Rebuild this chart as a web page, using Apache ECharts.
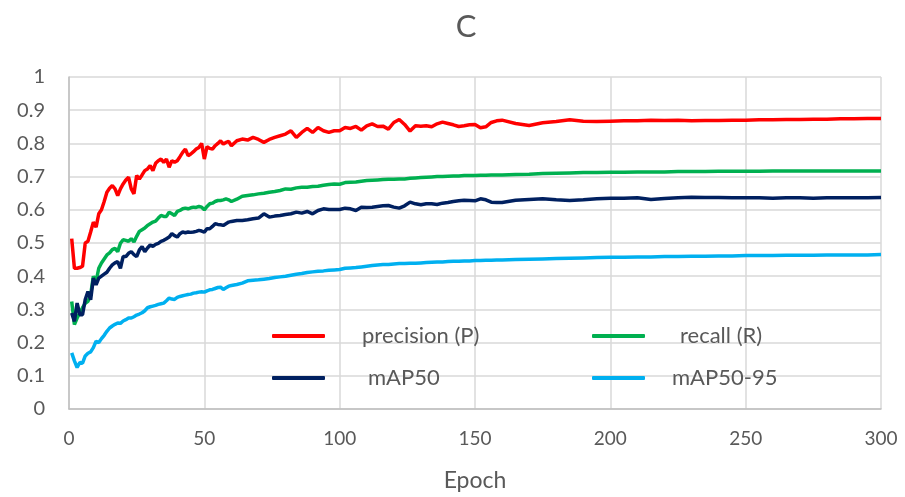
<!DOCTYPE html>
<html>
<head>
<meta charset="utf-8">
<script src="https://cdn.jsdelivr.net/npm/echarts@6/dist/echarts.min.js"></script>
<style>html,body{margin:0;padding:0;background:#fff;}#c{width:905px;height:497px;}</style>
</head>
<body>
<div id="c"></div>
<script>
const epochs = [1,2,3,4,5,6,7,8,9,10,11,12,13,14,15,16,17,18,19,20,21,22,23,24,25,26,27,28,29,30,31,32,33,34,35,36,37,38,39,40,41,42,43,44,45,46,47,48,49,50,51,52,53,54,55,56,57,58,59,60,
62,64,66,68,70,72,74,76,78,80,82,84,86,88,90,92,94,96,98,100,102,104,106,108,110,112,114,116,118,120,122,124,126,128,130,132,134,136,138,140,142,144,146,148,150,152,154,156,158,160,
165,170,175,180,185,190,195,200,205,210,215,220,225,230,235,240,245,250,255,260,265,270,275,280,285,290,295,300];

const precision = [0.513,0.424,0.424,0.426,0.430,0.500,0.505,0.533,0.563,0.548,0.588,0.600,0.625,0.653,0.665,0.673,0.663,0.643,0.663,0.678,0.690,0.698,0.663,0.648,0.703,0.693,0.705,0.718,0.723,0.733,0.718,0.740,0.748,0.753,0.743,0.753,0.728,0.748,0.743,0.748,0.760,0.773,0.783,0.763,0.768,0.775,0.783,0.788,0.800,0.753,0.790,0.785,0.783,0.793,0.800,0.808,0.798,0.803,0.806,0.793,
0.808,0.813,0.810,0.818,0.812,0.803,0.812,0.818,0.823,0.828,0.838,0.818,0.833,0.845,0.833,0.848,0.838,0.833,0.838,0.838,0.848,0.845,0.851,0.840,0.853,0.859,0.851,0.852,0.843,0.863,0.872,0.857,0.837,0.853,0.852,0.853,0.850,0.859,0.864,0.860,0.856,0.851,0.853,0.856,0.857,0.847,0.850,0.863,0.868,0.870,
0.860,0.854,0.862,0.866,0.871,0.867,0.866,0.867,0.868,0.868,0.870,0.869,0.870,0.868,0.869,0.869,0.870,0.870,0.871,0.871,0.872,0.872,0.873,0.873,0.874,0.874,0.875,0.875];

const recall = [0.324,0.254,0.274,0.290,0.305,0.318,0.324,0.344,0.400,0.384,0.424,0.440,0.452,0.464,0.470,0.480,0.484,0.474,0.499,0.510,0.508,0.505,0.513,0.503,0.520,0.535,0.540,0.545,0.553,0.558,0.563,0.566,0.575,0.583,0.580,0.580,0.593,0.588,0.583,0.595,0.598,0.603,0.605,0.603,0.606,0.608,0.607,0.610,0.608,0.600,0.610,0.618,0.620,0.625,0.628,0.628,0.630,0.633,0.630,0.625,
0.632,0.641,0.643,0.645,0.648,0.650,0.653,0.655,0.658,0.663,0.662,0.666,0.668,0.668,0.670,0.671,0.674,0.676,0.678,0.677,0.682,0.683,0.684,0.686,0.688,0.689,0.690,0.691,0.692,0.692,0.693,0.693,0.695,0.696,0.697,0.698,0.699,0.700,0.700,0.701,0.702,0.702,0.703,0.703,0.703,0.704,0.704,0.705,0.705,0.705,
0.706,0.707,0.709,0.710,0.711,0.712,0.712,0.713,0.713,0.714,0.714,0.714,0.715,0.715,0.715,0.716,0.716,0.716,0.716,0.717,0.717,0.717,0.717,0.717,0.717,0.717,0.717,0.717];

const mAP50 = [0.289,0.264,0.319,0.284,0.284,0.330,0.354,0.329,0.394,0.374,0.394,0.400,0.406,0.412,0.424,0.434,0.440,0.444,0.424,0.459,0.459,0.469,0.474,0.465,0.459,0.479,0.489,0.474,0.485,0.494,0.490,0.496,0.499,0.505,0.508,0.513,0.518,0.528,0.522,0.518,0.528,0.533,0.531,0.533,0.532,0.533,0.535,0.538,0.536,0.533,0.543,0.543,0.550,0.558,0.556,0.555,0.553,0.558,0.563,0.565,
0.568,0.568,0.570,0.573,0.575,0.588,0.578,0.581,0.583,0.586,0.588,0.593,0.590,0.595,0.588,0.598,0.603,0.601,0.601,0.601,0.605,0.603,0.598,0.608,0.607,0.608,0.610,0.612,0.613,0.608,0.605,0.612,0.623,0.618,0.615,0.618,0.618,0.616,0.620,0.622,0.625,0.627,0.629,0.628,0.627,0.633,0.630,0.623,0.622,0.622,
0.629,0.631,0.633,0.630,0.628,0.630,0.633,0.635,0.635,0.636,0.631,0.634,0.636,0.638,0.637,0.637,0.636,0.636,0.636,0.635,0.636,0.636,0.635,0.636,0.636,0.636,0.636,0.637];

const mAP5095 = [0.169,0.145,0.125,0.140,0.138,0.160,0.168,0.172,0.185,0.204,0.200,0.212,0.222,0.234,0.244,0.250,0.255,0.259,0.258,0.265,0.269,0.274,0.274,0.278,0.283,0.286,0.290,0.296,0.305,0.308,0.310,0.312,0.315,0.317,0.319,0.326,0.334,0.331,0.330,0.336,0.339,0.341,0.343,0.345,0.346,0.349,0.350,0.352,0.353,0.352,0.356,0.359,0.360,0.363,0.366,0.367,0.360,0.365,0.370,0.372,
0.375,0.379,0.386,0.388,0.389,0.391,0.393,0.396,0.398,0.400,0.403,0.406,0.408,0.411,0.413,0.415,0.416,0.418,0.419,0.420,0.424,0.425,0.426,0.428,0.430,0.432,0.434,0.435,0.435,0.437,0.438,0.438,0.439,0.439,0.440,0.441,0.442,0.443,0.443,0.444,0.445,0.445,0.446,0.446,0.447,0.447,0.448,0.448,0.449,0.449,
0.450,0.451,0.452,0.453,0.454,0.455,0.456,0.457,0.457,0.458,0.458,0.459,0.459,0.460,0.460,0.461,0.461,0.462,0.462,0.462,0.463,0.463,0.463,0.464,0.464,0.464,0.464,0.465];

const seriesNames = ['precision (P)', 'recall (R)', 'mAP50', 'mAP50-95'];
const seriesValues = [precision, recall, mAP50, mAP5095];
const colors = ['#ff0000', '#00b050', '#002060', '#00b0f0'];

const FONT = 'Lato, "Open Sans", sans-serif';
const TXT = '#595959';

function pairs(vals) { return epochs.map((e, i) => [e, vals[i]]); }

const legendPos = [
  {left: 272, top: 325, pad: 32},
  {left: 592, top: 325, pad: 30},
  {left: 272, top: 367, pad: 38},
  {left: 592, top: 367, pad: 22}
];

const chart = echarts.init(document.getElementById('c'), null, {renderer: 'canvas'});
chart.setOption({
  animation: false,
  color: colors,
  title: {
    text: 'C', left: 461, top: 6, textAlign: 'center',
    textStyle: {fontFamily: FONT, fontSize: 31, fontWeight: 'normal', color: TXT}
  },
  grid: {left: 69, right: 24, top: 77, bottom: 86, containLabel: false},
  legend: seriesNames.map((n, i) => ({
    data: [n], left: legendPos[i].left, top: legendPos[i].top, padding: 0,
    icon: 'roundRect', itemWidth: 53, itemHeight: 4,
    textStyle: {fontFamily: FONT, fontSize: 22, color: TXT, padding: [0, 0, 0, legendPos[i].pad]}
  })),
  xAxis: {
    type: 'value', min: 0, max: 300, interval: 50,
    name: 'Epoch', nameLocation: 'middle', nameGap: 60,
    nameTextStyle: {fontFamily: FONT, fontSize: 23, color: TXT},
    axisLine: {show: true, lineStyle: {color: '#bfbfbf', width: 1.5}},
    axisTick: {show: false},
    axisLabel: {fontFamily: FONT, fontSize: 19, color: TXT, margin: 20},
    splitLine: {show: true, lineStyle: {color: '#d9d9d9', width: 1.5}}
  },
  yAxis: {
    type: 'value', min: 0, max: 1, interval: 0.1,
    axisLine: {show: true, lineStyle: {color: '#bfbfbf', width: 1.5}},
    axisTick: {show: false},
    axisLabel: {fontFamily: FONT, fontSize: 20, color: TXT, margin: 24,
      formatter: v => String(Math.round(v * 10) / 10)},
    splitLine: {show: true, lineStyle: {color: '#d9d9d9', width: 1.5}}
  },
  series: seriesNames.map((n, i) => ({
    name: n, type: 'line', data: pairs(seriesValues[i]),
    showSymbol: false, symbol: 'none',
    lineStyle: {color: colors[i], width: 3.5}, itemStyle: {color: colors[i]}
  }))
});
</script>
</body>
</html>
